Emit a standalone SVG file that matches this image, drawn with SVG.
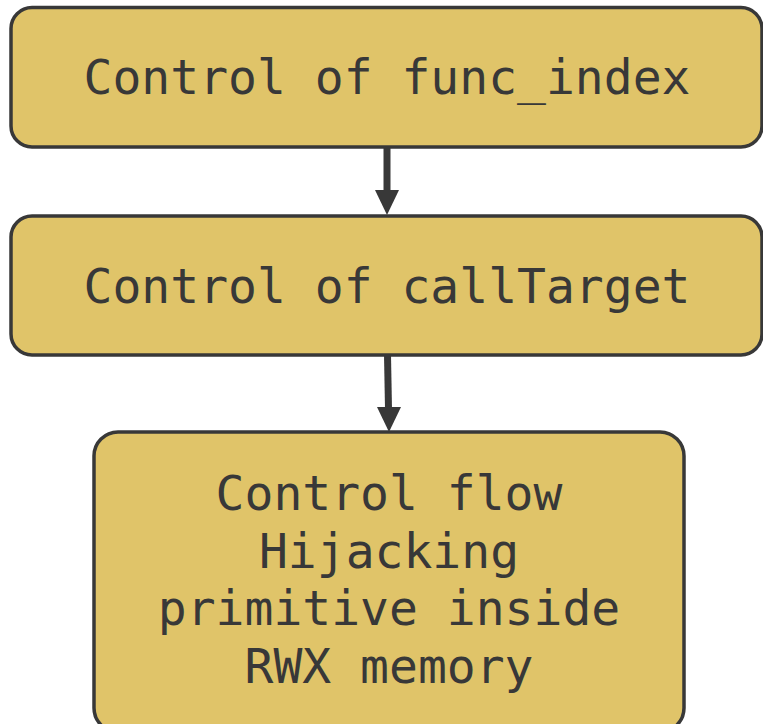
<svg xmlns="http://www.w3.org/2000/svg" width="763" height="724" viewBox="0 0 763 724">
<style>
.box{fill:#E0C469;stroke:#383838;stroke-width:3.5}
.t{font-family:"DejaVu Sans Mono",monospace;font-size:48px;fill:#383838;text-anchor:middle}
.edge{stroke:#383838;stroke-width:7;fill:none}
.head{fill:#383838}
</style>
<rect width="763" height="724" fill="#ffffff"/>
<g id="connectors">
<line class="edge" x1="387" y1="147" x2="387" y2="192"/>
<polygon class="head" points="375,190 399,190 387,215"/>
<line class="edge" x1="387.5" y1="355" x2="388.5" y2="409"/>
<polygon class="head" points="377,407 401,407 389,432"/>
</g>
<g id="n1">
<rect class="box" x="11" y="7.5" width="751" height="139.5" rx="21"/>
<text class="t" x="387" y="94">Control of func_index</text>
</g>
<g id="n2">
<rect class="box" x="11" y="216" width="751" height="139" rx="21"/>
<text class="t" x="387" y="303">Control of callTarget</text>
</g>
<g id="n3">
<rect class="box" x="94" y="432" width="590" height="300" rx="24"/>
<text class="t" x="389" y="510">Control flow</text>
<text class="t" x="389" y="568">Hijacking</text>
<text class="t" x="389" y="625">primitive inside</text>
<text class="t" x="389" y="683">RWX memory</text>
</g>
</svg>
